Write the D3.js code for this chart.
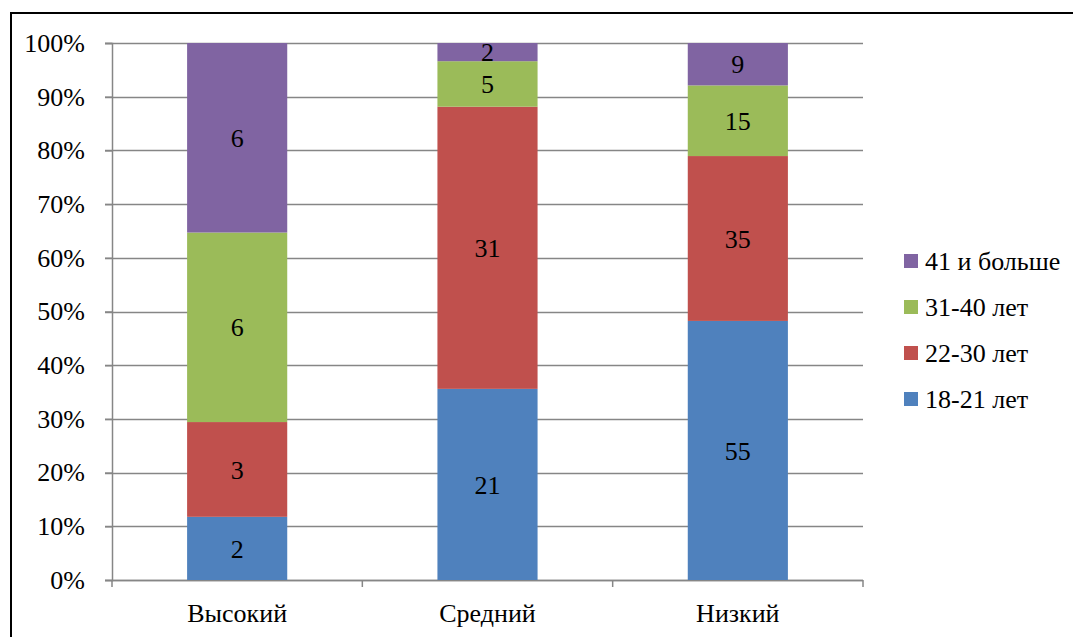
<!DOCTYPE html>
<html>
<head>
<meta charset="utf-8">
<script src="https://cdn.jsdelivr.net/npm/d3@7"></script>
<style>
  html, body { margin: 0; padding: 0; background: #fff; }
  svg { display: block; }
</style>
</head>
<body>
<svg id="chart" width="1073" height="637"></svg>
<script>
// Level groups on the x axis
const categories = ["Высокий", "Средний", "Низкий"];
// Age groups, bottom to top of each column
const seriesNames = ["18-21 лет", "22-30 лет", "31-40 лет", "41 и больше"];
const colors = ["#4F81BD", "#C0504D", "#9BBB59", "#8064A2"];
// Counts per age group, one entry per category
const age18_21 = [2, 21, 55];
const age22_30 = [3, 31, 35];
const age31_40 = [6, 5, 15];
const age41plus = [6, 2, 9];
const yTicks = [0, 0.1, 0.2, 0.3, 0.4, 0.5, 0.6, 0.7, 0.8, 0.9, 1];

const FONT = "Liberation Serif";
const FS = 26;

const seriesValues = [age18_21, age22_30, age31_40, age41plus];
const rows = categories.map((c, i) => {
  const r = { category: c };
  seriesNames.forEach((s, k) => { r[s] = seriesValues[k][i]; });
  return r;
});

const svg = d3.select("#chart");
const margin = { left: 112, right: 1073 - 863, top: 43, bottom: 637 - 580 };
const W = 1073, H = 637;

// Outer frame (top and left edges visible)
svg.append("line").attr("x1", 10).attr("x2", W).attr("y1", 13).attr("y2", 13)
  .attr("stroke", "#000").attr("stroke-width", 2);
svg.append("line").attr("x1", 11).attr("x2", 11).attr("y1", 13).attr("y2", H)
  .attr("stroke", "#000").attr("stroke-width", 2);

const x = d3.scaleBand().domain(categories)
  .range([margin.left, W - margin.right]).paddingInner(0.6).paddingOuter(0.3);
const xOuter = d3.scaleBand().domain(categories)
  .range([margin.left, W - margin.right]);
const y = d3.scaleLinear().domain([0, 1]).range([H - margin.bottom, margin.top]);

const stack = d3.stack().keys(seriesNames).offset(d3.stackOffsetExpand);
const stacked = stack(rows);

// Horizontal gridlines
svg.append("g").selectAll("line").data(yTicks).join("line")
  .attr("x1", margin.left - 7).attr("x2", W - margin.right)
  .attr("y1", d => Math.round(y(d)) + 0.5).attr("y2", d => Math.round(y(d)) + 0.5)
  .attr("stroke", "#868686").attr("stroke-width", 1.5);

// Y axis
const yAxis = svg.append("g").attr("transform", `translate(${margin.left},0)`)
  .call(d3.axisLeft(y).tickValues(yTicks).tickFormat(d3.format(".0%")).tickSize(7).tickPadding(20))
  .attr("font-family", FONT).attr("font-size", FS);
yAxis.select(".domain").attr("stroke", "#868686").attr("stroke-width", 1.5);
yAxis.selectAll(".tick line").attr("stroke", "#868686").attr("stroke-width", 1.5);
yAxis.selectAll("text").attr("fill", "#000");

// X axis with ticks between categories
const xAxisG = svg.append("g").attr("transform", `translate(0,${H - margin.bottom})`)
  .attr("font-family", FONT).attr("font-size", FS);
xAxisG.append("line").attr("x1", margin.left).attr("x2", W - margin.right)
  .attr("y1", 0.5).attr("y2", 0.5).attr("stroke", "#868686").attr("stroke-width", 1.5);
const bounds = categories.map(c => xOuter(c)).concat([xOuter(categories[categories.length - 1]) + xOuter.bandwidth()]);
xAxisG.selectAll(".sep").data(bounds).join("line").attr("class", "sep")
  .attr("x1", d => d).attr("x2", d => d).attr("y1", 0).attr("y2", 7)
  .attr("stroke", "#868686").attr("stroke-width", 1.5);
xAxisG.selectAll(".cat").data(categories).join("text").attr("class", "cat")
  .attr("x", d => xOuter(d) + xOuter.bandwidth() / 2).attr("y", 42)
  .attr("text-anchor", "middle").attr("fill", "#000").text(d => d);

// Stacked columns
const layers = svg.append("g").attr("font-family", FONT).attr("font-size", FS)
  .selectAll("g").data(stacked).join("g")
  .attr("fill", (d, i) => colors[i]);
layers.selectAll("rect").data(d => d).join("rect")
  .attr("x", d => x(d.data.category))
  .attr("width", x.bandwidth())
  .attr("y", d => y(d[1]))
  .attr("height", d => y(d[0]) - y(d[1]));

// Value labels
layers.selectAll("text").data(d => d.map(p => ({ p, key: d.key }))).join("text")
  .attr("x", d => x(d.p.data.category) + x.bandwidth() / 2)
  .attr("y", d => (y(d.p[0]) + y(d.p[1])) / 2)
  .attr("dy", "0.35em")
  .attr("text-anchor", "middle")
  .attr("fill", "#000")
  .text(d => d.p.data[d.key]);

// Legend, top entry is the last series
const legendItems = seriesNames.map((s, i) => ({ s, c: colors[i] })).reverse();
const lg = svg.append("g").attr("font-family", FONT).attr("font-size", FS)
  .selectAll("g").data(legendItems).join("g")
  .attr("transform", (d, i) => `translate(904,${261 + i * 46})`);
lg.append("rect").attr("x", 0).attr("y", -7).attr("width", 14).attr("height", 14).attr("fill", d => d.c);
lg.append("text").attr("x", 21).attr("y", 0).attr("dy", "0.35em").attr("fill", "#000").text(d => d.s);
</script>
</body>
</html>
